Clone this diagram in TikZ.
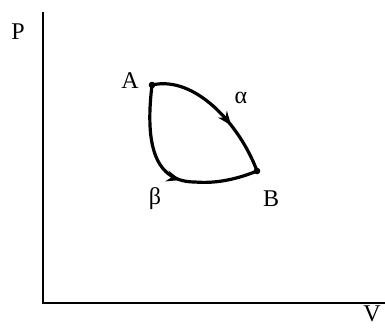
\documentclass[tikz,border=0pt]{standalone}
\usepackage{fontspec}
\setmainfont{Liberation Serif}
\usetikzlibrary{decorations.markings,arrows.meta}
\begin{document}
\begin{tikzpicture}[x=1pt,y=-1pt,
  axis/.style={line width=2.2pt},
  curve/.style={line width=3.2pt},
  lbl/.style={font=\fontsize{24}{26}\selectfont, inner sep=0pt},
  midarrow/.style={postaction={decorate},decoration={markings,mark=at position #1 with {\arrow{Stealth[length=14pt,width=11pt]}}}}]
\useasboundingbox (0,0) rectangle (385,327);
\coordinate (O) at (43,303);
\coordinate (Ptop) at (43,12);
\coordinate (Vend) at (386,303);
\draw[axis] (Ptop) -- (O) -- (Vend);
\node[lbl] (P) at (18,32) {P};
\node[lbl] (V) at (372,314) {V};
\coordinate (A) at (152,85);
\coordinate (B) at (257,171);
\coordinate (M) at (195,182);
\draw[curve, midarrow=0.64] (A) .. controls (195,75) and (240,125) .. (B);
\draw[curve, midarrow=0.88] (A) .. controls (146,135) and (150,182) .. (M);
\draw[curve] (M) .. controls (218,184) and (240,178) .. (B);
\fill (A) circle (3.3);
\fill (B) circle (3.3);
\node[lbl] (Al) at (130,81) {A};
\node[lbl] (Bl) at (271,199) {B};
\node[lbl] (al) at (241,98) {α};
\node[lbl] (be) at (155,199) {β};
\end{tikzpicture}
\end{document}
